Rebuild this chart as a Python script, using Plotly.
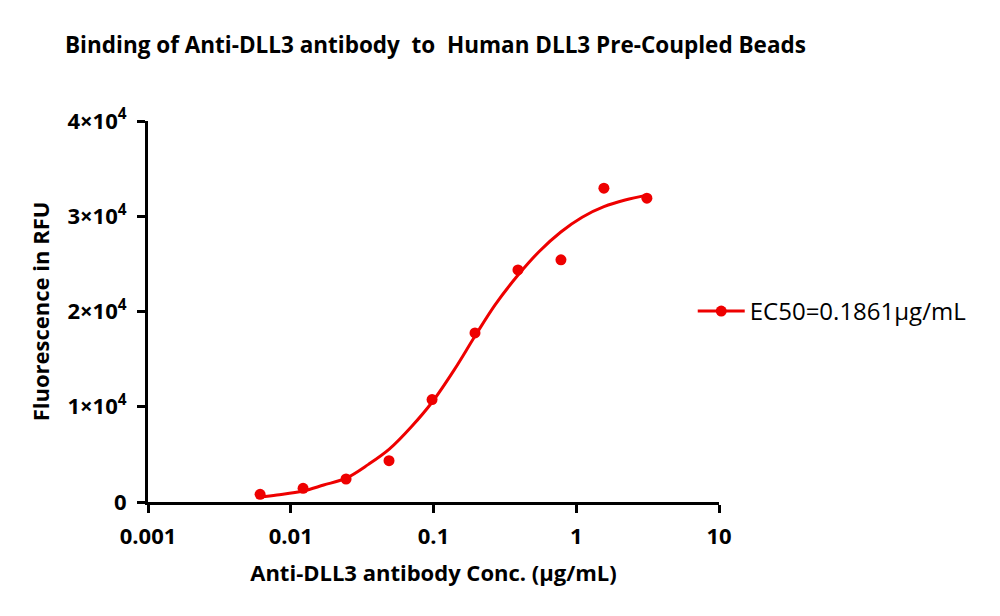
import plotly.graph_objects as go

# measured points (ug/mL, RFU)
conc = [3.125, 1.5625, 0.78125, 0.390625, 0.1953, 0.0977, 0.0488, 0.0244, 0.0122, 0.0061]
rfu = [31900, 32950, 25420, 24370, 17750, 10750, 4340, 2415, 1440, 810]

# fitted curve
fit_conc = [0.0061, 0.008, 0.0122, 0.017, 0.0244, 0.035, 0.049, 0.07, 0.098, 0.14,
            0.195, 0.27, 0.39, 0.55, 0.78, 1.1, 1.5625, 2.2, 3.125]
fit_rfu = [520, 740, 1150, 1780, 2500, 3950, 5550, 7900, 10500, 13900,
           17400, 20700, 23800, 26300, 28350, 29900, 31000, 31700, 32200]

x_ticks = [0.001, 0.01, 0.1, 1, 10]
x_labels = ['0.001', '0.01', '0.1', '1', '10']
y_ticks = [0, 10000, 20000, 30000, 40000]
y_labels = ['0', '1×10<sup>4</sup>', '2×10<sup>4</sup>', '3×10<sup>4</sup>', '4×10<sup>4</sup>']

legend_name = 'EC50=0.1861μg/mL'
red = '#ee0000'
font = 'Open Sans'

fig = go.Figure()

fig.add_trace(go.Scatter(
    x=fit_conc, y=fit_rfu, mode='lines', line=dict(color=red, width=3, shape='spline'),
    showlegend=False, hoverinfo='skip'
))
fig.add_trace(go.Scatter(
    x=conc, y=rfu, mode='markers', marker=dict(color=red, size=11),
    showlegend=False
))
# legend entry only (line + dot)
fig.add_trace(go.Scatter(
    x=[None], y=[None], mode='lines+markers', name=legend_name,
    line=dict(color=red, width=3), marker=dict(color=red, size=11)
))

fig.update_layout(
    width=1000, height=616,
    plot_bgcolor='white', paper_bgcolor='white',
    margin=dict(l=140, r=289, t=113, b=122),
    title=dict(
        text='Binding of Anti-DLL3 antibody  to  Human DLL3 Pre-Coupled Beads',
        x=0.057, xanchor='left', y=0.94, yanchor='middle',
        font=dict(family=font, size=22.5, color='black', weight='bold')
    ),
    legend=dict(
        x=0.954, xanchor='left', y=0.5, yanchor='middle',
        font=dict(family=font, size=24, color='black'),
        itemwidth=47
    ),
)

fig.update_xaxes(
    type='log', range=[-3, 1],
    tickvals=x_ticks, ticktext=x_labels,
    ticks='outside', ticklen=8, tickwidth=3, tickcolor='black',
    showline=True, linewidth=3, linecolor='black',
    showgrid=False, zeroline=False, ticklabelstandoff=5,
    tickfont=dict(family=font, size=22, color='black', weight='bold'),
    title=dict(text='Anti-DLL3 antibody Conc. (μg/mL)', standoff=17,
               font=dict(family=font, size=22, color='black', weight='bold'))
)
fig.update_yaxes(
    range=[0, 40000],
    tickvals=y_ticks, ticktext=y_labels,
    ticks='outside', ticklen=8, tickwidth=3, tickcolor='black',
    showline=True, linewidth=3, linecolor='black',
    showgrid=False, zeroline=False, ticklabelstandoff=6,
    tickfont=dict(family=font, size=22, color='black', weight='bold'),
    title=dict(text='Fluorescence in RFU', standoff=12,
               font=dict(family=font, size=22, color='black', weight='bold'))
)

fig.write_html("out.html")
